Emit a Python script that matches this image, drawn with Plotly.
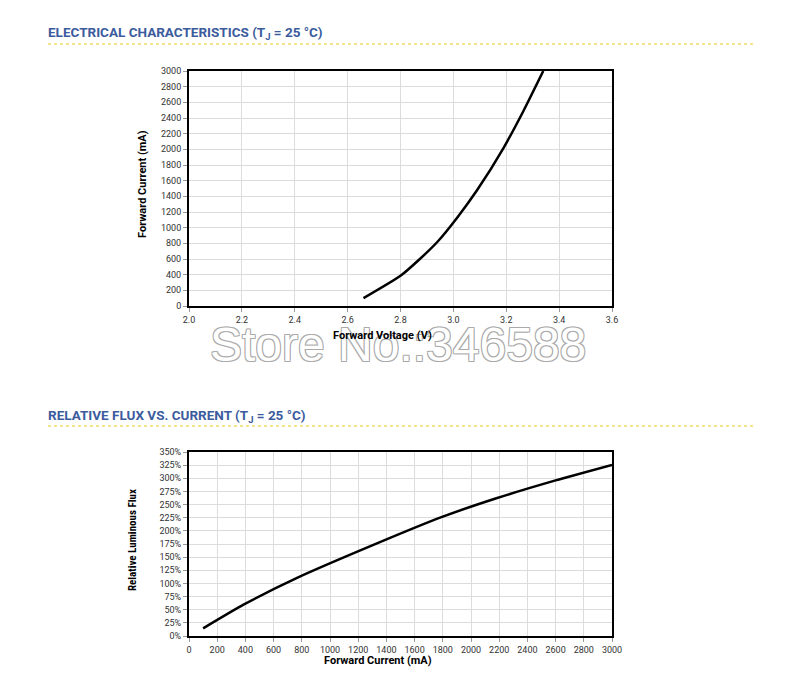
import plotly.graph_objects as go

# Forward voltage vs current
voltage_v = [2.66, 2.80, 2.87, 2.94, 3.015, 3.09, 3.19, 3.265, 3.34]
current_ma = [100, 385, 590, 820, 1130, 1480, 2020, 2490, 3000]

# Relative flux vs current
flux_current_ma = [100, 390, 770, 1350, 1790, 2180, 2600, 3000]
relative_flux_pct = [14.5, 60, 111, 178, 226, 262, 296, 325.5]

top_xticks = [2.0, 2.2, 2.4, 2.6, 2.8, 3.0, 3.2, 3.4, 3.6]
top_yticks = list(range(0, 3001, 200))
bot_xticks = list(range(0, 3001, 200))
bot_yticks = list(range(0, 351, 25))

W, H = 800, 689
def px(x): return x / W
def py(y): return 1 - y / H

fig = go.Figure()
fig.add_trace(go.Scatter(x=voltage_v, y=current_ma, mode="lines",
                         line=dict(color="black", width=2.5, shape="spline", smoothing=0.6),
                         xaxis="x", yaxis="y", showlegend=False, hoverinfo="skip"))
fig.add_trace(go.Scatter(x=flux_current_ma, y=relative_flux_pct, mode="lines",
                         line=dict(color="black", width=2.5, shape="spline", smoothing=0.6),
                         xaxis="x2", yaxis="y2", showlegend=False, hoverinfo="skip"))

tickfont = dict(family="Roboto, Arial, sans-serif", size=9, color="#333")
common = dict(showgrid=True, gridcolor="#dcdcdc", gridwidth=1,
              showline=True, linecolor="black", linewidth=2, mirror=True,
              ticks="outside", ticklen=4, tickcolor="#999", tickfont=tickfont,
              zeroline=False, fixedrange=True, automargin=False)

fig.update_layout(
    template="none",
    width=W, height=H, margin=dict(l=0, r=0, t=0, b=0, pad=0, autoexpand=False),
    paper_bgcolor="white", plot_bgcolor="white", showlegend=False,
    xaxis=dict(domain=[px(189), px(612)], anchor="y", range=[2.0, 3.6],
               tickvals=top_xticks, ticktext=[f"{v:.1f}" for v in top_xticks], **common),
    yaxis=dict(domain=[py(306), py(71)], anchor="x", range=[0, 3000],
               tickvals=top_yticks, **common),
    xaxis2=dict(domain=[px(189), px(612)], anchor="y2", range=[0, 3000],
                tickvals=bot_xticks, **common),
    yaxis2=dict(domain=[py(636), py(452)], anchor="x2", range=[0, 350],
                tickvals=bot_yticks, ticktext=[f"{v}%" for v in bot_yticks], **common),
)

title_font = dict(family="Roboto, Arial, sans-serif", size=13.5, color="#3b5b9d", weight="bold")
label_font = dict(family="Roboto, Arial, sans-serif", size=11, color="black", weight="bold")

anns = [
    dict(x=px(46), y=py(33), text="ELECTRICAL CHARACTERISTICS (T<sub>J</sub> = 25 °C)",
         xanchor="left", yanchor="middle", font=title_font),
    dict(x=px(46), y=py(416), text="RELATIVE FLUX VS. CURRENT (T<sub>J</sub> = 25 °C)",
         xanchor="left", yanchor="middle", font=title_font),
    # watermark
    dict(x=px(398), y=py(344), text="Store No.:346588", xanchor="center", yanchor="middle",
         font=dict(family="Liberation Sans, Arial, sans-serif", size=48, color="white",
                   shadow="-1px -1px 0 #aaa, 1px -1px 0 #aaa, -1px 1px 0 #aaa, 1px 1px 0 #aaa")),
    dict(x=px(382), y=py(335), text="Forward Voltage (V)", xanchor="center", yanchor="middle",
         font=label_font),
    dict(x=px(142), y=py(184), text="Forward Current (mA)", xanchor="center", yanchor="middle",
         textangle=-90, font=label_font),
    dict(x=px(378), y=py(660), text="Forward Current (mA)", xanchor="center", yanchor="middle",
         font=label_font),
    dict(x=px(132), y=py(540), text="Relative Luminous Flux", xanchor="center", yanchor="middle",
         textangle=-90,
         font=dict(family="Liberation Sans Narrow, Roboto Condensed, Arial Narrow, Roboto, sans-serif",
                   size=11, color="black", weight="bold")),
]
for a in anns:
    a.update(xref="paper", yref="paper", showarrow=False)
fig.update_layout(annotations=anns)

for yy in (44, 426):
    fig.add_shape(type="line", xref="paper", yref="paper", x0=px(48), x1=px(753),
                  y0=py(yy), y1=py(yy), line=dict(color="#f0dc6a", width=1.5, dash="dot"))

fig.write_html("out.html", config={"responsive": False, "displayModeBar": False},
               post_script="document.body.style.margin='0';document.body.style.overflow='hidden';")
